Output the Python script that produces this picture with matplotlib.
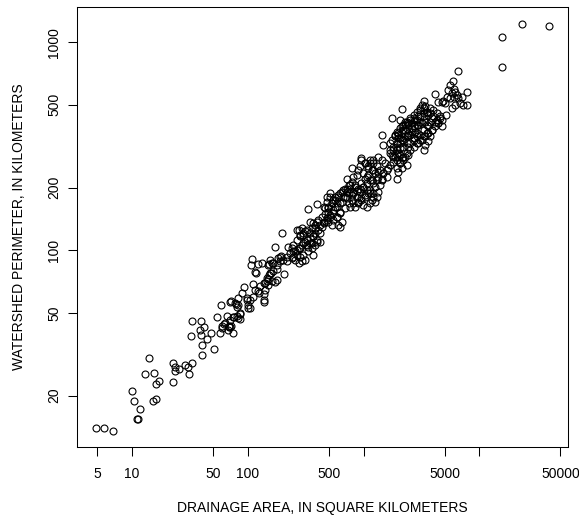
import numpy as np
import matplotlib.pyplot as plt
from matplotlib.ticker import FixedLocator, FixedFormatter, NullLocator

# small basins, lower-left part of the cloud
area_small = [4.9, 5.7, 6.8, 10.0, 10.4, 11.0, 11.3, 11.7, 13.9, 13.0, 15.4, 16.0, 17.2, 15.3, 16.0,
              22.4, 22.7, 23.4, 23.7, 25.5, 28.9, 30.6, 31.2, 33.1, 32.3, 33.1, 38.6, 39.2, 39.2, 41.6,
              39.9, 39.9, 44.1, 48.1, 50.8, 54.2, 57.9, 59.0, 60.2, 62.3, 65.6, 67.3, 68.3, 70.1, 71.8,
              70.1, 74.0, 76.4, 80.0, 78.9, 82.1, 84.9, 84.9, 89.1, 93.2, 98.9, 99.6, 104, 109, 106,
              111, 115, 117, 123, 125, 138, 138, 140, 146, 150, 153, 158, 164, 153, 173,
              180, 182, 194, 205]
perim_small = [13.9, 14.0, 13.5, 21.0, 18.8, 15.4, 15.4, 17.2, 30.5, 25.5, 25.6, 22.7, 23.5, 18.8, 19.3,
               23.3, 28.6, 27.4, 26.4, 26.9, 28.0, 27.4, 25.4, 28.8, 38.7, 45.9, 41.4, 39.3, 45.7, 42.8,
               35.1, 31.3, 37.6, 40.2, 33.5, 47.8, 40.2, 54.4, 43.3, 44.3, 48.3, 41.4, 43.2, 42.8, 43.0,
               56.2, 40.2, 48.0, 48.2, 55.0, 54.6, 46.6, 49.2, 62.1, 66.8, 57.7, 54.4, 52.6, 91.1, 85.3,
               68.7, 78.4, 78.0, 85.7, 62.1, 56.6, 61.4, 69.8, 71.0, 72.5, 76.4, 77.5, 79.2, 86.0, 70.6,
               81.1, 91.5, 93.9, 76.9]

# 60 - 270 km2
area_lower = [171, 199, 268, 161, 155, 146, 178, 137, 150, 161, 127, 141, 123, 115, 137,
              111, 104, 98, 82.7, 77.5, 72, 80, 101, 85.6, 82.7, 74.7, 70.2, 63.4, 68.2, 59.7]
perim_lower = [104, 121, 125, 86.6, 78, 73.5, 72, 69.5, 68.3, 70.8, 67, 64.6, 63.5, 64.6, 57.9,
               59.8, 57.9, 59, 58.8, 55.9, 56.8, 53.6, 52.7, 50, 47.1, 48, 46.4, 44.9, 42.9, 42.2]

# 130 - 750 km2
area_mid = [131.5, 333, 397, 276, 295, 312, 302, 282, 344.5, 368, 395, 420, 407, 381, 436,
            452, 487, 513, 496, 531, 548, 592, 626, 605, 626, 651, 566, 592, 725, 513,
            487, 531, 548, 464, 496, 322, 344.5, 368, 395, 420, 381, 344.5, 357, 322, 302,
            282, 264, 247, 231.5, 247, 264, 282, 302, 312, 295, 276, 256, 240, 217, 202,
            190, 178, 166, 155.5, 150, 368, 333, 222, 240, 217, 190]
perim_mid = [86.6, 157, 167, 125.4, 128, 124, 118.6, 118.6, 137, 134.5, 137, 132.5, 125.4, 128, 130,
             137, 142.5, 148, 137, 132.5, 140, 145, 151, 132.5, 130, 137, 162, 168, 221, 181,
             171, 168, 156.5, 159, 153, 112.3, 115, 116.5, 112.3, 110, 106.2, 108, 102.5, 106.2, 108,
             102.5, 100.5, 99, 97, 93.3, 95.1, 93.3, 95.1, 90, 88.4, 86.6, 90, 91.7, 93.3, 90,
             88.4, 85.1, 86.6, 90, 85.1, 95.1, 99, 104, 102.5, 88.4, 93.3]

# 450 - 2500 km2
area_upper = [1770, 1434, 1464, 2160, 2063, 2279, 2436, 2200, 1992, 1868, 2063, 2279, 2436, 2357, 2200,
              2063, 1930, 1806, 1691, 1750, 1868, 1992, 2136, 2279, 2436, 2063, 1930, 2136, 2357, 1992,
              1624, 1531, 1434, 1342, 1214, 1136, 1099, 1214, 1342, 1484, 1583, 1434, 1297, 1214, 1136,
              1062, 983, 947, 1029, 931, 900, 870, 812, 795, 1930, 763, 718, 664, 626, 605,
              566, 496, 452, 651, 718, 787, 870, 931, 983, 1062, 1029, 947, 900, 812, 763,
              1136, 1214, 1255, 1136, 1062, 983, 843, 812, 746, 691]
perim_upper = [432, 358, 321, 475, 423, 400, 408, 379, 366, 353, 347, 353, 366, 327, 315,
               310, 327, 315, 304, 287, 282, 293, 277, 282, 287, 262, 248, 248, 257, 239,
               248, 262, 272, 282, 272, 262, 248, 243, 239, 234, 226, 221, 218, 210, 218,
               226, 234, 277, 262, 253, 243, 230, 226, 248, 221, 206, 198, 195, 188, 181,
               175, 162, 162, 171, 178, 184.5, 192, 198, 202, 195, 184.5, 178, 171, 168, 162,
               188, 181, 171, 168, 162, 165.5, 202, 191, 188, 181]

# 1700 - 5100 km2
area_large = [4139, 4407, 4725, 3296, 3184, 3393, 3071, 3746, 4010, 4300, 4571, 4725, 4407, 4139, 3880,
              3620, 3500, 3296, 3071, 2880, 2700, 2517, 2357, 2200, 2063, 1930, 1868, 1992, 2136, 2436,
              2600, 2781, 2970, 3184, 3393, 3620, 3880, 3500, 3296, 3071, 2880, 2700, 2517, 2357, 2200,
              2063, 1930, 1691, 1750, 3746, 3620, 3393, 3296, 2700, 2880, 2517, 2436, 5100, 4725]
perim_large = [564, 515, 515, 522, 499, 491, 483, 483, 473, 457, 440, 423, 408, 415, 431,
               447, 462, 457, 440, 423, 431, 423, 415, 400, 387, 372, 358, 347, 339, 358,
               372, 387, 400, 408, 415, 394, 379, 366, 353, 339, 327, 315, 304, 293, 282,
               287, 304, 327, 339, 353, 335, 321, 304, 339, 366, 327, 315, 445, 394]

# densest stretch of the band, 250 - 4600 km2
area_band = [480, 513, 548, 592, 626, 664, 718, 763, 812, 870, 931, 983, 1062, 1136, 1214,
             1255, 1175, 1099, 1029, 947, 900, 843, 787, 746, 691, 651, 605, 566, 531, 496,
             464, 436, 407, 381, 357, 452, 487, 513, 548, 592, 626, 691, 746, 787, 843,
             900, 947, 1029, 1099, 1175, 1297, 1342, 1386, 1434, 1342, 1255, 1175, 1099, 1029, 947,
             1136, 1214, 1297, 1386, 1484, 1583, 1691, 1806, 1930, 2063, 2200, 1930, 1806, 1691, 1806,
             1930, 2063, 2200, 2357, 2517, 2700, 2880, 2781, 2600, 2436, 2279, 2136, 1992, 2136, 2279,
             2517, 2700, 2880, 3071, 3296, 3500, 3746, 4010, 4300, 4571, 4407, 4139, 3880, 3620, 3393,
             3184, 2970, 3296, 3500, 3746, 3071, 2880, 2700, 3071, 3296, 2970, 2781, 2600,
             264, 282, 302, 322, 344.5, 368, 395, 420, 312, 295, 276, 256, 333, 357, 381, 247]
perim_band = [181, 188, 175, 162, 168, 181, 191, 198, 188, 181, 191, 202, 210, 195, 188,
              202, 218, 230, 221, 210, 198, 206, 214, 206, 198, 191, 184.5, 181, 168, 159,
              150, 145, 140, 132.5, 128, 134.5, 140, 145, 151, 145, 153, 159, 168, 175, 162,
              168, 175, 181, 188, 175, 181, 191, 206, 218, 226, 234, 243, 253, 262, 272,
              272, 262, 253, 243, 234, 243, 257, 266, 272, 262, 272, 287, 282, 293, 304,
              315, 327, 339, 353, 358, 347, 353, 372, 387, 400, 379, 366, 358, 394, 415,
              431, 447, 462, 473, 483, 462, 457, 440, 423, 431, 408, 394, 379, 366, 353,
              339, 327, 379, 400, 415, 415, 400, 394, 358, 440, 440, 423, 408,
              112.3, 116.5, 121, 125.4, 121, 116.5, 110, 121, 110, 106.2, 102.5, 99, 104, 108, 121, 106.2]

# biggest basins
area_top = [6480, 5935, 5577, 6020, 5400, 5830, 6161, 6400, 6020, 5577, 5200, 6580, 7040, 6804, 7270,
            7780, 7780, 6161, 5830, 5050, 4880, 15600, 15800, 23400, 39900]
perim_top = [730, 653, 622, 598, 590, 568, 578, 558, 548, 538, 548, 538, 548, 510, 499,
             578, 499, 499, 483, 510, 522, 1057, 763, 1225, 1197]

x_ticks = [5, 10, 50, 100, 500, 1000, 5000, 10000, 50000]
x_tick_labels = ["5", "10", "50", "100", "500", "", "5000", "", "50000"]
y_ticks = [20, 50, 100, 200, 500, 1000]
y_tick_labels = ["20", "50", "100", "200", "500", "1000"]

area = np.concatenate([area_small, area_lower, area_mid, area_upper, area_large, area_band, area_top])
perim = np.concatenate([perim_small, perim_lower, perim_mid, perim_upper, perim_large, perim_band, perim_top])

plt.rcParams['font.family'] = ['Liberation Sans', 'DejaVu Sans']

fig = plt.figure(figsize=(5.79, 5.16), dpi=100)
ax = fig.add_axes([77 / 579, 1 - 447 / 516, (568 - 77) / 579, (447 - 7.3) / 516])

ax.plot(area, perim, linestyle='none', marker='o', ms=5, mfc='none', mec='black', mew=0.8)

ax.set_xscale('log')
ax.set_yscale('log')
ax.set_xlim(10 ** 0.525, 10 ** 4.765)
ax.set_ylim(10 ** 1.054, 10 ** 3.168)

ax.xaxis.set_major_locator(FixedLocator(x_ticks))
ax.xaxis.set_major_formatter(FixedFormatter(x_tick_labels))
ax.xaxis.set_minor_locator(NullLocator())
ax.yaxis.set_major_locator(FixedLocator(y_ticks))
ax.yaxis.set_major_formatter(FixedFormatter(y_tick_labels))
ax.yaxis.set_minor_locator(NullLocator())

ax.tick_params(axis='both', length=6.5, width=0.75, labelsize=10, colors='black')
ax.tick_params(axis='x', pad=8)
ax.tick_params(axis='y', pad=5)
for lab in ax.get_yticklabels():
    lab.set_rotation(90)
    lab.set_va('center')

for sp in ax.spines.values():
    sp.set_linewidth(0.75)
    sp.set_color('black')

ax.set_xlabel("DRAINAGE AREA, IN SQUARE KILOMETERS", fontsize=10, labelpad=14)
ax.set_ylabel("WATERSHED PERIMETER, IN KILOMETERS", fontsize=10, labelpad=15)

fig.savefig('out.png', dpi=100)
